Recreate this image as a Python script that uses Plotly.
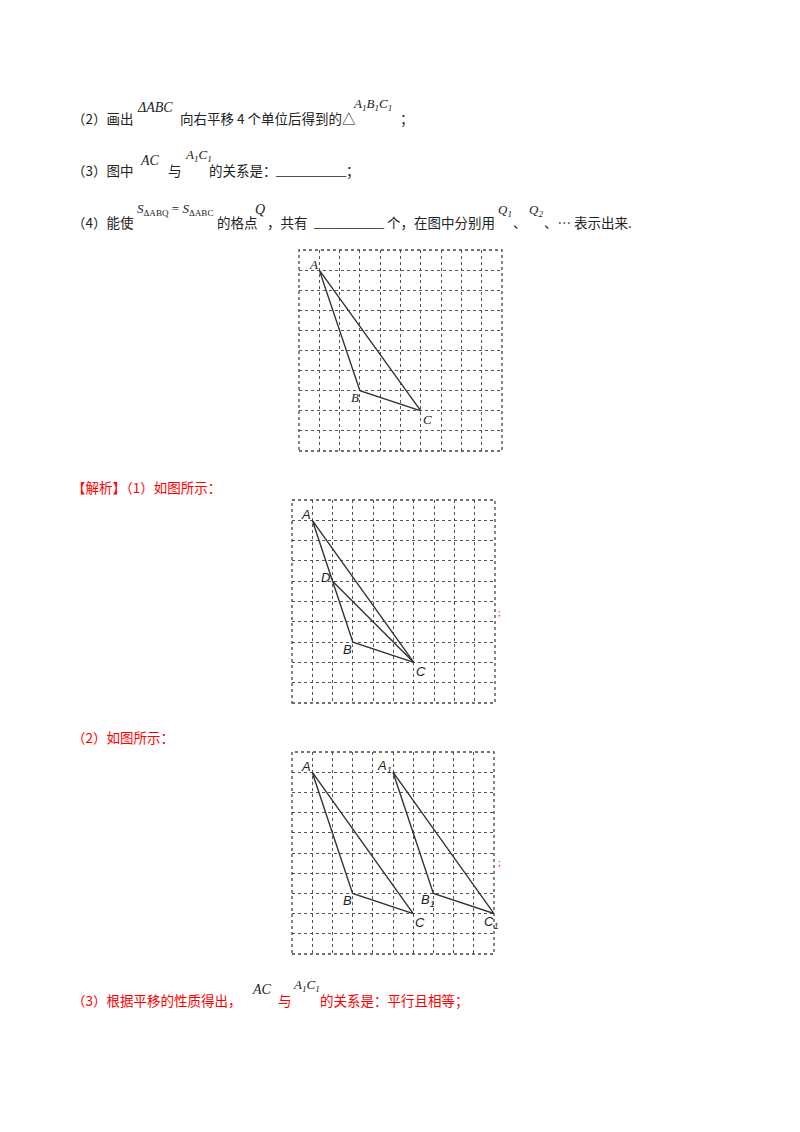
import plotly.graph_objects as go

# grid-point coordinates (column, row from top)
A = (1, 1); B = (3, 7); C = (6, 8); D = (2, 4)
A1 = (5, 1); B1 = (7, 7); C1 = (10, 8)
grid_n = 10

W, H = 800, 1132
OX, OY = -8, -8  # page offset compensation
boxes = [(299, 250, 502, 451), (292, 500, 495, 703), (292, 752, 494, 954)]

fig = go.Figure()
LC = "#333333"

def seg(ax, pts):
    n = "" if ax == 1 else str(ax)
    fig.add_trace(go.Scatter(x=[p[0] for p in pts], y=[p[1] for p in pts], mode="lines",
                             line=dict(color=LC, width=1.4), xaxis="x" + n, yaxis="y" + n,
                             hoverinfo="skip", showlegend=False))

seg(1, [A, B, C, A])
seg(2, [A, B, C, A]); seg(2, [D, C])
seg(3, [A, B, C, A]); seg(3, [A1, B1, C1, A1])

for i, (l, t, r, b) in enumerate(boxes, start=1):
    l += OX; r += OX; t += OY; b += OY
    n = "" if i == 1 else str(i)
    ax = dict(domain=[l / W, r / W], range=[0, grid_n], tick0=0, dtick=1, showticklabels=False,
              showgrid=True, gridcolor="#555", griddash="dot", gridwidth=1, zeroline=False,
              showline=False, ticks="", fixedrange=True)
    ay = dict(ax, domain=[1 - b / H, 1 - t / H], range=[grid_n, 0])
    if i > 1:
        ax["anchor"] = "y" + n; ay["anchor"] = "x" + n
    fig.update_layout(**{"xaxis" + n: ax, "yaxis" + n: ay})
    fig.add_shape(type="rect", x0=l / W, x1=r / W, y0=1 - b / H, y1=1 - t / H, xref="paper", yref="paper",
                  line=dict(color="#444", width=1.3, dash="dot"))

ann = []
def lab(ax, p, text, dx, dy, fam="Liberation Serif"):
    n = "" if ax == 1 else str(ax)
    ann.append(dict(x=p[0], y=p[1], xref="x" + n, yref="y" + n, text="<i>" + text + "</i>", showarrow=False,
                    xshift=dx, yshift=dy, font=dict(family=fam, size=13, color="#222")))

lab(1, A, "A", -6, 6); lab(1, B, "B", -5, -7); lab(1, C, "C", 7, -9)
sf = "Liberation Sans"
lab(2, A, "A", -6, 6, sf); lab(2, D, "D", -7, 4, sf); lab(2, B, "B", -5, -7, sf); lab(2, C, "C", 7, -9, sf)
lab(3, A, "A", -6, 6, sf); lab(3, B, "B", -5, -7, sf); lab(3, C, "C", 7, -9, sf)
lab(3, A1, "A<sub>1</sub>", -9, 6, sf); lab(3, B1, "B<sub>1</sub>", -5, -7, sf); lab(3, C1, "C<sub>1</sub>", -3, -9, sf)

CJK = "Noto Sans CJK SC"
MATH = "Liberation Serif"
def txt(x, y, s, fam=CJK, size=13.5, color="#222", italic=False):
    if italic:
        s = "<i>" + s + "</i>"
    ann.append(dict(x=(x + OX) / W, y=1 - (y + OY) / H, xref="paper", yref="paper", text=s, showarrow=False,
                    xanchor="left", yanchor="middle", font=dict(family=fam, size=size, color=color)))

P0 = 70
# (2)
txt(P0, 118, "（2）画出")
txt(135, 108, "ΔABC", MATH, 14, italic=True)
txt(178, 118, "向右平移 4 个单位后得到的△")
txt(351, 104, "A<sub>1</sub>B<sub>1</sub>C<sub>1</sub>", MATH, 13, italic=True)
txt(398, 118, "；")
# (3)
txt(P0, 170, "（3）图中")
txt(138, 161, "AC", MATH, 14, italic=True)
txt(166, 170, "与")
txt(183, 155, "A<sub>1</sub>C<sub>1</sub>", MATH, 13, italic=True)
txt(207, 170, "的关系是：")
txt(273, 170, "__________", MATH, 14)
txt(344, 170, "；")
# (4)
txt(P0, 222, "（4）能使")
txt(135, 210, "<i>S</i><sub>ΔABQ</sub> = <i>S</i><sub>ΔABC</sub>", MATH, 13)
txt(215, 222, "的格点")
txt(253, 210, "Q", MATH, 14, italic=True)
txt(265, 222, "，共有")
txt(311, 222, "__________", MATH, 14)
txt(385, 222, "个，在图中分别用")
txt(496, 211, "Q<sub>1</sub>", MATH, 13, italic=True)
txt(511, 222, "、")
txt(527, 211, "Q<sub>2</sub>", MATH, 13, italic=True)
txt(542, 222, "、… 表示出来.")

RED = "#ff0000"
txt(P0, 487, "【解析】（1）如图所示：", color=RED)
txt(496, 612, ";", MATH, 10, color=RED)
txt(P0, 737, "（2）如图所示：", color=RED)
txt(496, 862, ";", MATH, 10, color=RED)
txt(P0, 1000, "（3）根据平移的性质得出，", color=RED)
txt(250, 990, "AC", MATH, 14, italic=True)
txt(276, 1000, "与", color=RED)
txt(291, 985, "A<sub>1</sub>C<sub>1</sub>", MATH, 13, italic=True)
txt(318, 1000, "的关系是：平行且相等；", color=RED)

fig.update_layout(annotations=ann, width=W, height=H, margin=dict(l=0, r=0, t=0, b=0),
                  paper_bgcolor="white", plot_bgcolor="white")
fig.write_html("out.html")
